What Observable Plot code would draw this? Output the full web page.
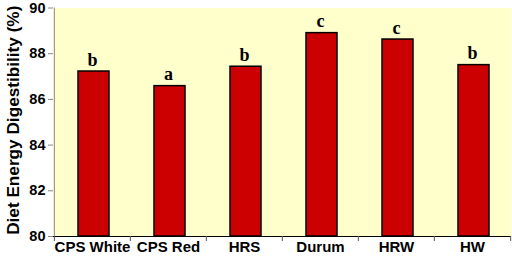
<!DOCTYPE html>
<html><head><meta charset="utf-8">
<script src="https://cdn.jsdelivr.net/npm/d3@7"></script>
<script src="https://cdn.jsdelivr.net/npm/@observablehq/plot@0.6"></script>
<style>
body{margin:0;background:#fff;}
</style>
</head><body><div id="chart"></div>
<script>
const categories = ["CPS White","CPS Red","HRS","Durum","HRW","HW"];
const digestibility = [87.22,86.58,87.43,88.9,88.62,87.5];
const groups = ["b","a","b","c","c","b"];
const yTicks = [80,82,84,86,88,90];
const yLabel = "Diet Energy Digestibility (%)";

const data = categories.map((c,i)=>({wheat:c, value:digestibility[i], group:groups[i]}));
const W=512,H=267,mL=53,mR=1,mT=7.5,mB=31;
const bw=(W-mL-mR)/categories.length;

const chart = Plot.plot({
  width:W,height:H,marginLeft:mL,marginRight:mR,marginTop:mT,marginBottom:mB,
  style:{background:"#fff", fontFamily:"'Liberation Sans',Arial,sans-serif", color:"#000", overflow:"visible"},
  x:{domain:categories, padding:0, axis:null},
  y:{domain:[yTicks[0], yTicks[yTicks.length-1]], axis:null},
  marks:[
    Plot.frame({fill:"#ffffcc", stroke:null}),
    Plot.barY(data,{x:"wheat", y1:yTicks[0], y2:"value", fill:"#cc0000", stroke:"#000", strokeWidth:1.5, insetLeft:24, insetRight:21}),
    Plot.text(data,{x:"wheat", y:"value", text:"group", lineAnchor:"bottom", dy:-6, fontFamily:"'Liberation Serif','Times New Roman',serif", fontWeight:"bold", fontSize:18, fill:"#000"}),
    Plot.ruleX([categories[0]],{dx:-bw/2, y1:yTicks[0], y2:yTicks[yTicks.length-1], stroke:"#888"}),
    Plot.ruleY([yTicks[0]],{stroke:"#000"}),
    Plot.axisY({ticks:yTicks, tickSize:5, tickPadding:3, stroke:"#888", fill:"#000", fontSize:14.5, fontWeight:"bold", label:null}),
    Plot.text([yLabel],{frameAnchor:"left", rotate:-90, dx:-47, dy:-2, lineAnchor:"top", textAnchor:"middle", fontSize:17.2, fontWeight:"bold", fill:"#000"}),
    Plot.axisX({tickSize:5, tickFormat:()=>"", dx:-bw/2, stroke:"#555", label:null}),
    Plot.axisX([categories[categories.length-1]],{tickSize:5, tickFormat:()=>"", dx:bw/2, stroke:"#555", label:null}),
    Plot.axisX({tickSize:0, tickPadding:5, fontSize:15, fontWeight:"bold", fill:"#000", label:null})
  ]
});
document.getElementById("chart").appendChild(chart);
</script>
</body></html>
